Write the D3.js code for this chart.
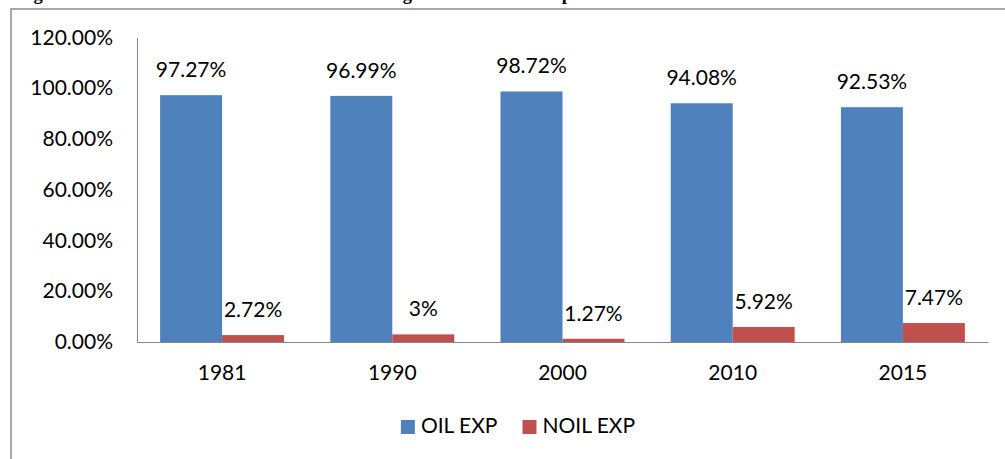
<!DOCTYPE html>
<html>
<head>
<meta charset="utf-8">
<script src="https://cdn.jsdelivr.net/npm/d3@7"></script>
<style>
  html, body { margin: 0; padding: 0; background: #fff; }
  svg { display: block; }
</style>
</head>
<body>
<script>
// Data
const years = ["1981", "1990", "2000", "2010", "2015"];
const series = ["OIL EXP", "NOIL EXP"];
const oilExp = [97.27, 96.99, 98.72, 94.08, 92.53];
const noilExp = [2.72, 3, 1.27, 5.92, 7.47];
const yTicks = [0, 20, 40, 60, 80, 100, 120];
const titleText = "Figure 2: Oil and Non-Oil Revenue as a Percentage Share of Total Exports";

const colors = { "OIL EXP": "#4f81bd", "NOIL EXP": "#c0504d" };
const font = "Lato, 'Open Sans', sans-serif";
const fontSize = 21;

const width = 1005, height = 459;
const margin = { top: 37.5, right: 17, bottom: 117, left: 137 };

const svg = d3.select("body").append("svg")
    .attr("width", width)
    .attr("height", height)
    .attr("viewBox", [0, 0, width, height]);

// Prepare data
const plotData = years.map((year, i) => ({
    year: year,
    values: [
        { key: "OIL EXP", value: oilExp[i] },
        { key: "NOIL EXP", value: noilExp[i] }
    ]
}));

// Title - sits above the page edge in the source, only the descenders show
svg.append("text")
    .attr("x", 17)
    .attr("y", 0)
    .attr("font-family", "'Liberation Serif', 'Times New Roman', serif")
    .attr("font-weight", "bold")
    .attr("font-size", 18.5)
    .attr("fill", "#000")
    .text(titleText);

// Outer frame (top and left edges visible)
svg.append("path")
    .attr("d", `M11,${height} L11,9 L${width},9`)
    .attr("fill", "none")
    .attr("stroke", "#8c8c8c")
    .attr("stroke-width", 1.5);

// Scales
const x0 = d3.scaleBand()
    .domain(years)
    .range([margin.left, width - margin.right]);

const x1 = d3.scaleBand()
    .domain(series)
    .range([0, x0.bandwidth()])
    .paddingOuter(0.373);

const y = d3.scaleLinear()
    .domain([0, 120])
    .range([height - margin.bottom, margin.top]);

// Y axis
const yAxis = svg.append("g")
    .attr("transform", `translate(${margin.left},0)`)
    .call(d3.axisLeft(y)
        .tickValues(yTicks)
        .tickSize(0)
        .tickPadding(24)
        .tickFormat(d => d.toFixed(2) + "%"));
yAxis.select(".domain").attr("stroke", "#868686");
yAxis.selectAll("text")
    .attr("font-family", font)
    .attr("font-size", fontSize)
    .attr("fill", "#000");

// Bars
const groups = svg.selectAll(".year-group")
    .data(plotData)
    .join("g")
    .attr("class", "year-group")
    .attr("transform", d => `translate(${x0(d.year)},0)`);

groups.selectAll("rect")
    .data(d => d.values)
    .join("rect")
    .attr("x", d => x1(d.key))
    .attr("y", d => y(d.value))
    .attr("width", x1.bandwidth())
    .attr("height", d => y(0) - y(d.value))
    .attr("fill", d => colors[d.key]);

// Value labels
groups.selectAll(".value-label")
    .data(d => d.values)
    .join("text")
    .attr("class", "value-label")
    .attr("x", d => x1(d.key) + x1.bandwidth() / 2)
    .attr("y", d => y(d.value) - 18)
    .attr("text-anchor", "middle")
    .attr("font-family", font)
    .attr("font-size", fontSize)
    .attr("fill", "#000")
    .text(d => d.value + "%");

// X axis
const xAxis = svg.append("g")
    .attr("transform", `translate(0,${y(0)})`)
    .call(d3.axisBottom(x0).tickSize(0).tickPadding(23));
xAxis.select(".domain").attr("stroke", "#868686");
xAxis.selectAll("text")
    .attr("font-family", font)
    .attr("font-size", fontSize)
    .attr("fill", "#000");

// Legend
const legend = svg.append("g");
const items = legend.selectAll(".legend-item")
    .data(series)
    .join("g")
    .attr("class", "legend-item");

items.append("rect")
    .attr("width", 14)
    .attr("height", 14)
    .attr("y", -13)
    .attr("fill", d => colors[d]);

items.append("text")
    .attr("x", 20)
    .attr("font-family", font)
    .attr("font-size", fontSize)
    .attr("fill", "#000")
    .text(d => d);

let offset = 0;
items.each(function () {
    const g = d3.select(this);
    g.attr("transform", `translate(${offset},0)`);
    offset += 20 + g.select("text").node().getComputedTextLength() + 25;
});
const legendWidth = offset - 25;
legend.attr("transform", `translate(${518 - legendWidth / 2},433)`);
</script>
</body>
</html>
